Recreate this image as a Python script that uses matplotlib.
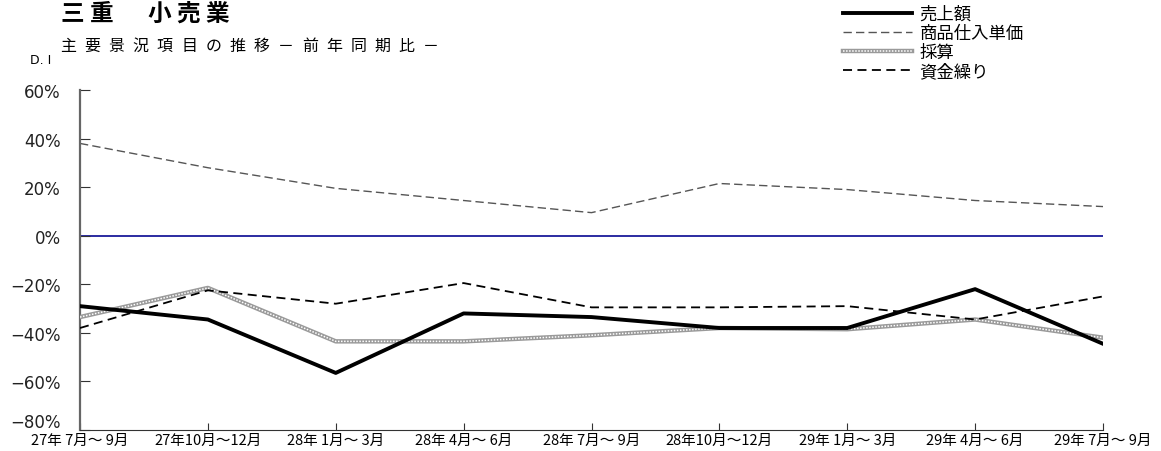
import matplotlib
matplotlib.use("Agg")
import matplotlib.pyplot as plt
from matplotlib.transforms import ScaledTranslation

plt.rcParams['font.family'] = ['Noto Sans CJK JP', 'DejaVu Sans']

periods = ["27年 7月～ 9月", "27年10月～12月", "28年 1月～ 3月", "28年 4月～ 6月",
           "28年 7月～ 9月", "28年10月～12月", "29年 1月～ 3月", "29年 4月～ 6月",
           "29年 7月～ 9月"]
sales = [-29, -34.5, -56.5, -32, -33.5, -38, -38, -22, -44.5]
purchase_price = [38, 28, 19.5, 14.5, 9.5, 21.5, 19, 14.5, 12]
profit = [-33.5, -21.5, -43.5, -43.5, -41, -38, -38.5, -34.5, -42]
cash_flow = [-38, -22.5, -28, -19.5, -29.5, -29.5, -29, -34.5, -25]
yticks = [-80, -60, -40, -20, 0, 20, 40, 60]
series_names = ["売上額", "商品仕入単価", "採算", "資金繰り"]

W, H = 1161, 452
fig = plt.figure(figsize=(W / 100, H / 100), dpi=100)
ax = fig.add_axes([80 / W, 21 / H, 1023 / W, 340 / H])

x = list(range(len(periods)))

ax.axhline(0, color="#1a1a9a", lw=1.3, zorder=1)
l_price, = ax.plot(x, purchase_price, color="#555555", lw=1.0, dashes=(6, 3), zorder=2)
# profit line: grey band with a fine white dotted core
l_prof_a, = ax.plot(x, profit, color="#9a9a9a", lw=3.2, zorder=3)
l_prof_b, = ax.plot(x, profit, color="white", lw=1.1, dashes=(1, 1), zorder=4)
l_cash, = ax.plot(x, cash_flow, color="black", lw=1.3, dashes=(5, 3), zorder=5)
l_sales, = ax.plot(x, sales, color="black", lw=2.8, zorder=6)

ax.set_xlim(0, len(periods) - 1)
ax.set_ylim(-80, 60)
ax.set_yticks(yticks)
ax.set_yticklabels([f"{v}%".replace("-", "−") for v in yticks], fontsize=12,
                   color="#222222", family="DejaVu Sans")
ax.set_xticks(x)
ax.set_xticklabels(periods, fontsize=10.5)
ax.tick_params(axis="y", direction="in", length=7, pad=14, color="#333333")
ax.tick_params(axis="x", direction="in", length=5, pad=2, color="#333333")
for s in ["top", "right"]:
    ax.spines[s].set_visible(False)
ax.spines["left"].set_color("#666666")
ax.spines["left"].set_linewidth(1.6)
ax.spines["bottom"].set_color("#333333")

# lift the bottom y label so it clears the first period label
bottom_label = ax.get_yticklabels()[0]
bottom_label.set_transform(bottom_label.get_transform()
                           + ScaledTranslation(0, 10 / 100, fig.dpi_scale_trans))


def spaced_text(x0, y0, text, step, **kw):
    """Draw text one character at a time with a fixed pixel step."""
    for i, ch in enumerate(text):
        fig.text((x0 + i * step) / W, 1 - y0 / H, ch, va="center", ha="left", **kw)


spaced_text(61, 14, "三重　小売業", 28.8, fontsize=17, fontweight="bold")
spaced_text(60, 46, "主要景況項目の推移－前年同期比－", 24.2, fontsize=11.5)
fig.text(30 / W, 1 - 61 / H, "D. I", fontsize=9, va="center", family="DejaVu Sans")

handles = [l_sales, l_price, (l_prof_a, l_prof_b), l_cash]
fig.legend(handles, series_names, loc="upper left", bbox_to_anchor=(843 / W, 1 - 6 / H),
           frameon=False, fontsize=12.5, handlelength=4.0, handletextpad=0.4,
           labelspacing=0.06, borderaxespad=0, borderpad=0)

fig.savefig("out.png", dpi=100)
